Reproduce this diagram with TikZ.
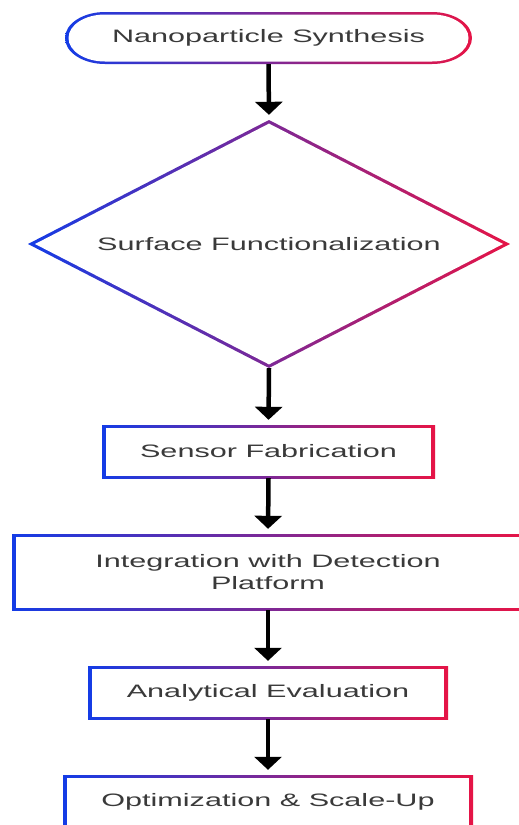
\documentclass[tikz,border=0pt]{standalone}
\usepackage{fontspec}
\setmainfont{Liberation Sans}[FakeStretch=1.7]
\usetikzlibrary{arrows.meta}

\definecolor{gblue}{RGB}{20,60,230}
\definecolor{gred}{RGB}{230,20,70}
\definecolor{txt}{RGB}{58,58,58}

\tikzset{
  x=1pt, y=1pt,
  label text/.style={font=\fontsize{18}{22}\selectfont, text=txt, align=center, inner sep=0pt},
  % rectangle with a left-to-right gradient outline
  gradbox/.style={label text, shape=rectangle,
    path picture={
      \shade[left color=gblue, right color=gred]
        (path picture bounding box.south west) rectangle (path picture bounding box.north east);
      \fill[white]
        ([xshift=4pt, yshift=2.5pt]path picture bounding box.south west)
        rectangle ([xshift=-4pt, yshift=-2.5pt]path picture bounding box.north east);
    }},
  % rounded terminal with gradient outline
  gradpill/.style={label text, shape=rectangle,
    path picture={
      \shade[left color=gblue, right color=gred]
        ([xshift=40pt]path picture bounding box.north west)
        arc[start angle=90, end angle=270, x radius=40pt, y radius=26pt]
        -- ([xshift=-40pt]path picture bounding box.south east)
        arc[start angle=-90, end angle=90, x radius=40pt, y radius=26pt] -- cycle;
      \fill[white]
        ([xshift=40pt, yshift=-2.5pt]path picture bounding box.north west)
        arc[start angle=90, end angle=270, x radius=36.5pt, y radius=23.5pt]
        -- ([xshift=-40pt, yshift=2.5pt]path picture bounding box.south east)
        arc[start angle=-90, end angle=90, x radius=36.5pt, y radius=23.5pt] -- cycle;
    }},
  % decision diamond (drawn inside its bounding rectangle) with gradient outline
  graddiamond/.style={label text, shape=rectangle,
    path picture={
      \shade[left color=gblue, right color=gred]
        (path picture bounding box.west)
        -- (path picture bounding box.north)
        -- (path picture bounding box.east)
        -- (path picture bounding box.south) -- cycle;
      \fill[white]
        ([xshift=7pt]path picture bounding box.west)
        -- ([yshift=-3.6pt]path picture bounding box.north)
        -- ([xshift=-7pt]path picture bounding box.east)
        -- ([yshift=3.6pt]path picture bounding box.south) -- cycle;
    }},
  flow/.style={line width=4.5pt, draw=black, shorten >=5pt,
    -{Triangle[width=27pt, length=13pt]}},
}

\begin{document}
\begin{tikzpicture}
  \fill[white] (0,0) rectangle (519,-825);
  \useasboundingbox (0,0) rectangle (519,-825);
  \clip (0,0) rectangle (519,-825);

  \node[gradpill, minimum width=407pt, minimum height=52pt] (synth) at (268.5,-38) {Nanoparticle Synthesis};
  \node[graddiamond, minimum width=482pt, minimum height=248pt] (func) at (269,-244) {Surface Functionalization};
  \node[gradbox, minimum width=333pt, minimum height=53pt] (fab) at (268.5,-451.5) {Sensor Fabrication};
  \node[gradbox, minimum width=512pt, minimum height=76pt] (integ) at (268,-572) {Integration with Detection\\Platform};
  \node[gradbox, minimum width=360pt, minimum height=53pt] (eval) at (268,-692.5) {Analytical Evaluation};
  \node[gradbox, minimum width=410pt, minimum height=53pt] (opt) at (268,-801.5) {Optimization \& Scale-Up};

  \draw[flow] (synth.south) -- (func.north);
  \draw[flow] (func.south) -- (fab.north);
  \draw[flow] (fab.south) -- (integ.north);
  \draw[flow] (integ.south) -- (eval.north);
  \draw[flow] (eval.south) -- (opt.north);
\end{tikzpicture}
\end{document}
